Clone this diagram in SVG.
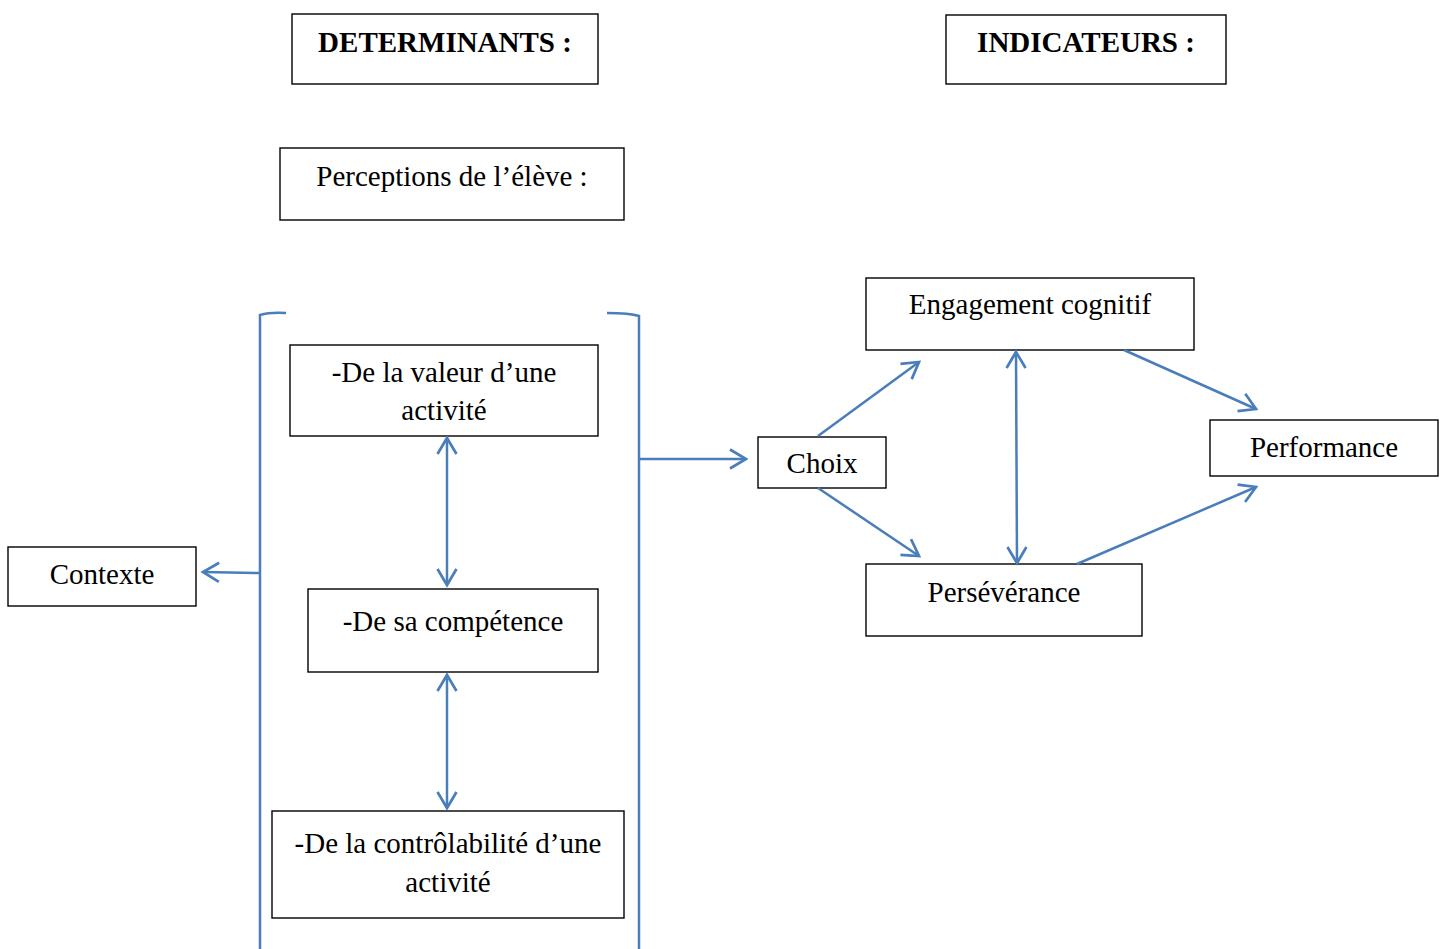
<svg xmlns="http://www.w3.org/2000/svg" width="1443" height="949" viewBox="0 0 1443 949">
<style>
.box{fill:#fff;stroke:#000;stroke-width:1.4}
.t{font-family:"Liberation Serif","Times New Roman",serif;font-size:29px;fill:#000;text-anchor:middle}
.b{font-weight:bold}
.c{fill:none;stroke:#4a7ebb;stroke-width:2.5}
</style>
<defs>
<marker id="ah" markerUnits="userSpaceOnUse" viewBox="0 0 24 24" markerWidth="24" markerHeight="24" refX="19" refY="12" orient="auto-start-reverse">
<path d="M3,2.5 L19,12 L3,21.5" fill="none" stroke="#4a7ebb" stroke-width="2.7"/>
</marker>
</defs>
<rect width="1443" height="949" fill="#fff"/>
<g id="determinants"><rect class="box" x="292" y="14" width="306" height="70"/><text class="t b" x="445" y="52">DETERMINANTS :</text></g>
<g id="indicateurs"><rect class="box" x="946" y="15" width="280" height="69"/><text class="t b" x="1086" y="52">INDICATEURS :</text></g>
<g id="perceptions"><rect class="box" x="280" y="148" width="344" height="72"/><text class="t" x="452" y="186">Perceptions de l’élève :</text></g>
<g id="valeur"><rect class="box" x="290" y="345" width="308" height="91"/><text class="t" x="444" y="382">-De la valeur d’une</text><text class="t" x="444" y="420">activité</text></g>
<g id="competence"><rect class="box" x="308" y="589" width="290" height="83"/><text class="t" x="453" y="631">-De sa compétence</text></g>
<g id="controlabilite"><rect class="box" x="272" y="811" width="352" height="107"/><text class="t" x="448" y="853">-De la contrôlabilité d’une</text><text class="t" x="448" y="892">activité</text></g>
<g id="contexte"><rect class="box" x="8" y="547" width="188" height="59"/><text class="t" x="102" y="584">Contexte</text></g>
<g id="choix"><rect class="box" x="758" y="437" width="128" height="51"/><text class="t" x="822" y="473">Choix</text></g>
<g id="engagement"><rect class="box" x="866" y="278" width="328" height="72"/><text class="t" x="1030" y="314">Engagement cognitif</text></g>
<g id="performance"><rect class="box" x="1210" y="420" width="228" height="56"/><text class="t" x="1324" y="457">Performance</text></g>
<g id="perseverance"><rect class="box" x="866" y="564" width="276" height="72"/><text class="t" x="1004" y="602">Persévérance</text></g>
<g id="connectors">
<path class="c" d="M286,313 Q270,312 260,315 L260,949"/>
<path class="c" d="M607,313 Q630,313 639,316 L639,949"/>
<line class="c" x1="447" y1="438" x2="447" y2="585" marker-start="url(#ah)" marker-end="url(#ah)"/>
<line class="c" x1="447" y1="675" x2="447" y2="808" marker-start="url(#ah)" marker-end="url(#ah)"/>
<line class="c" x1="639" y1="459" x2="746" y2="459" marker-end="url(#ah)"/>
<line class="c" x1="260" y1="573" x2="203" y2="572" marker-end="url(#ah)"/>
<line class="c" x1="818" y1="436" x2="919" y2="362" marker-end="url(#ah)"/>
<line class="c" x1="818" y1="488" x2="919" y2="556" marker-end="url(#ah)"/>
<line class="c" x1="1016" y1="352" x2="1017" y2="563" marker-start="url(#ah)" marker-end="url(#ah)"/>
<line class="c" x1="1124" y1="350" x2="1256" y2="409" marker-end="url(#ah)"/>
<line class="c" x1="1077" y1="564" x2="1256" y2="487" marker-end="url(#ah)"/>
</g>
</svg>
